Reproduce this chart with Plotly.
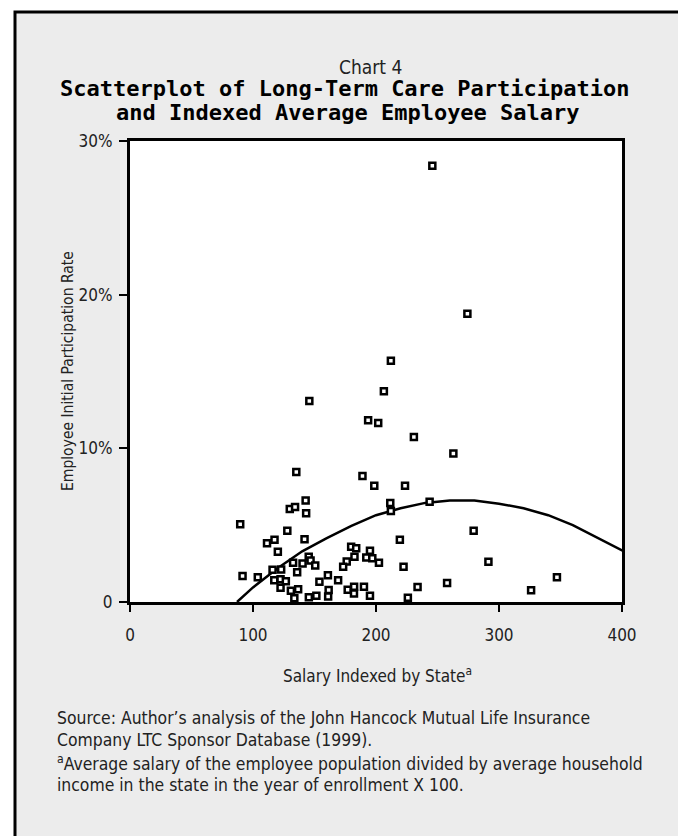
import plotly.graph_objects as go

# Scatter data: indexed salary (x) and participation rate in percent (y)
salary = [245.8, 274.3, 212.1, 206.4, 145.8, 193.6, 201.8, 230.8, 262.9, 135.2,
          189.0, 198.6, 223.6, 142.8, 129.9, 134.2, 143.2, 211.6, 212.1, 243.6,
          89.6, 127.9, 141.9, 111.4, 117.5, 120.2, 219.4, 279.4, 179.8, 183.9,
          195.1, 192.1, 197.0, 202.4, 182.5, 176.2, 173.3, 222.4, 145.3, 146.8,
          140.3, 150.6, 132.6, 115.9, 122.9, 135.9, 91.5, 103.9, 117.3, 122.4,
          126.7, 154.0, 160.9, 169.2, 122.4, 130.8, 136.7, 133.6, 145.4, 151.5,
          161.5, 161.1, 177.0, 182.2, 182.1, 190.2, 195.1, 225.9, 233.8, 257.8,
          291.4, 326.1, 347.1]
participation = [28.39, 18.76, 15.70, 13.71, 13.08, 11.82, 11.65, 10.74, 9.66, 8.46,
                 8.20, 7.56, 7.56, 6.60, 6.05, 6.18, 5.78, 6.44, 5.93, 6.52,
                 5.06, 4.64, 4.09, 3.82, 4.05, 3.27, 4.05, 4.64, 3.60, 3.50,
                 3.33, 2.90, 2.84, 2.56, 2.95, 2.64, 2.29, 2.29, 2.95, 2.70,
                 2.50, 2.37, 2.56, 2.10, 2.11, 1.93, 1.69, 1.61, 1.42, 1.48,
                 1.35, 1.32, 1.74, 1.42, 0.92, 0.74, 0.83, 0.25, 0.31, 0.40,
                 0.78, 0.36, 0.80, 0.99, 0.55, 0.99, 0.41, 0.28, 0.98, 1.24,
                 2.62, 0.76, 1.61]

# Fitted trend line
fit_x = [87, 100, 120, 140, 160, 180, 200, 220, 240, 260, 280, 300, 320, 340, 360, 380, 400, 404]
fit_y = [0.0, 0.95, 2.2, 3.3, 4.15, 4.95, 5.65, 6.1, 6.45, 6.6, 6.6, 6.4, 6.1, 5.65, 5.0, 4.2, 3.4, 3.2]

x_ticks = [0, 100, 200, 300, 400]
x_tick_labels = ["0", "100", "200", "300", "400"]
y_ticks = [0, 10, 20, 30]
y_tick_labels = ["0", "10%", "20%", "30%"]

# page body has an 8px margin: figure is drawn at screen offset (8, 8)
OFF = 8
W, H = 686 - OFF, 836 - OFF
SL, SR, ST, SB = 130, 622, 141, 602          # plot area in screen pixels
L, R, T, B = SL - OFF, SR - OFF, ST - OFF, SB - OFF
pw, ph = R - L, B - T

def px(sx):
    return (sx - OFF - L) / pw

def py(sy):
    return (B - (sy - OFF)) / ph

NARROW = "Liberation Sans Narrow, DejaVu Sans Condensed, Arial Narrow, Roboto Condensed, sans-serif"
MONO = "DejaVu Sans Mono, Liberation Mono, monospace"
TXT = "#222222"

fig = go.Figure()
fig.add_trace(go.Scatter(
    x=fit_x, y=fit_y, mode="lines",
    line=dict(color="black", width=2.5),
    hoverinfo="skip", showlegend=False,
))
fig.add_trace(go.Scatter(
    x=salary, y=participation, mode="markers",
    marker=dict(symbol="square", size=6, color="white",
                line=dict(color="black", width=2.5)),
    cliponaxis=False, showlegend=False,
))

fig.update_xaxes(
    range=[0, 400], tickvals=x_ticks, ticktext=x_tick_labels,
    showgrid=False, zeroline=False,
    showline=True, linecolor="black", linewidth=3, mirror=True,
    ticks="outside", ticklen=7, tickwidth=1.5, tickcolor="black",
    tickfont=dict(family=NARROW, size=17, color=TXT), ticklabelstandoff=9,
)
fig.update_yaxes(
    range=[0, 30], tickvals=y_ticks, ticktext=y_tick_labels,
    showgrid=False, zeroline=False,
    showline=True, linecolor="black", linewidth=3, mirror=True,
    ticks="outside", ticklen=8, tickwidth=1.5, tickcolor="black",
    tickfont=dict(family=NARROW, size=17, color=TXT), ticklabelstandoff=3,
)

ann = []
ann.append(dict(text="Chart 4", x=px(370), y=py(67), xref="paper", yref="paper",
                showarrow=False, xanchor="center", yanchor="middle",
                font=dict(family=NARROW, size=19, color=TXT)))
ann.append(dict(text="<b>Scatterplot of Long-Term Care Participation</b>", x=px(345), y=py(88),
                xref="paper", yref="paper", showarrow=False, xanchor="center", yanchor="middle",
                font=dict(family=MONO, size=22, color="black")))
ann.append(dict(text="<b>and Indexed Average Employee Salary</b>", x=px(348), y=py(112),
                xref="paper", yref="paper", showarrow=False, xanchor="center", yanchor="middle",
                font=dict(family=MONO, size=22, color="black")))
ann.append(dict(text="Employee Initial Participation Rate", x=px(68), y=py(371),
                xref="paper", yref="paper", showarrow=False, textangle=-90,
                xanchor="center", yanchor="middle",
                font=dict(family=NARROW, size=15.5, color=TXT)))
ann.append(dict(text="Salary Indexed by State<sup>a</sup>", x=px(377), y=py(675),
                xref="paper", yref="paper", showarrow=False,
                xanchor="center", yanchor="middle",
                font=dict(family=NARROW, size=17, color=TXT)))
foot = [
    ("Source: Author\u2019s analysis of the John Hancock Mutual Life Insurance", 718),
    ("Company LTC Sponsor Database (1999).", 740),
    ("<sup>a</sup>Average salary of the employee population divided by average household", 763),
    ("income in the state in the year of enrollment X 100.", 785),
]
for t, yy in foot:
    ann.append(dict(text=t, x=px(55), y=py(yy), xref="paper", yref="paper",
                    showarrow=False, xanchor="left", yanchor="middle", align="left",
                    font=dict(family=NARROW, size=17.4, color=TXT)))

fig.update_layout(
    width=W, height=H,
    margin=dict(l=L, r=W - R, t=T, b=H - B, pad=0),
    paper_bgcolor="white", plot_bgcolor="white",
    annotations=ann,
    shapes=[
        dict(type="rect", xref="paper", yref="paper",
             x0=px(15), x1=px(682), y0=py(900), y1=py(12),
             line=dict(color="black", width=3), fillcolor="#ececec", layer="below"),
        dict(type="rect", xref="paper", yref="paper",
             x0=0, x1=1, y0=0, y1=1,
             line=dict(width=0), fillcolor="white", layer="below"),
    ],
    showlegend=False,
)

fig.write_html("out.html")
